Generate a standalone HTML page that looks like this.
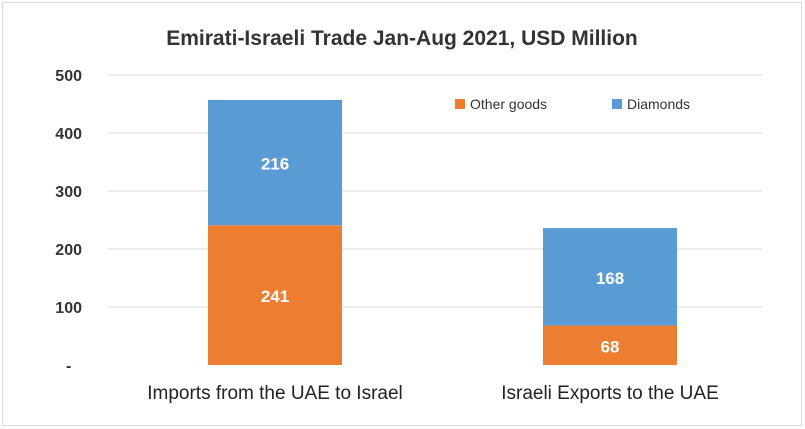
<!DOCTYPE html>
<html><head><meta charset="utf-8"><style>
body{margin:0;background:#fff}
svg{display:block;font-family:"Liberation Sans",sans-serif;font-weight:bold}
</style></head><body>
<svg width="805" height="429">
<rect x="2.5" y="2.5" width="799" height="423" fill="#fff" stroke="#d9d9d9"/>
<text x="402" y="45" text-anchor="middle" font-size="21" fill="#333">Emirati-Israeli Trade Jan-Aug 2021, USD Million</text>
<g id="grid"></g><g id="bars"></g>
<g>
<rect x="455" y="99" width="10" height="10" fill="#ED7D31"/>
<text x="470" y="109" font-size="14" font-weight="normal" fill="#333">Other goods</text>
<rect x="612" y="99" width="10" height="10" fill="#5B9BD5"/>
<text x="627" y="109" font-size="14" font-weight="normal" fill="#333">Diamonds</text>
</g>
</svg>
<script>
const categories=["Imports from the UAE to Israel","Israeli Exports to the UAE"];
const otherGoods=[241,68];
const diamonds=[216,168];
const ticks=[0,100,200,300,400,500];
const tickLabels=["-","100","200","300","400","500"];
const NS="http://www.w3.org/2000/svg";
const y=v=>365-v*0.58;
const cx=i=>275+i*335;
function mk(tag,attrs,parent,txt){const e=document.createElementNS(NS,tag);for(const k in attrs)e.setAttribute(k,attrs[k]);if(txt!==undefined)e.textContent=txt;parent.appendChild(e);return e;}
const grid=document.getElementById('grid'),bars=document.getElementById('bars');
ticks.forEach((t,i)=>{
 if(t>0){const l=mk('line',{x1:108,x2:762,y1:y(t),y2:y(t),stroke:'#d9d9d9'},grid);
 
 }
 const tx=mk('text',{x:t===0?66:82,y:y(t)+6,'text-anchor':t===0?'start':'end','font-size':16,fill:'#333'},grid,tickLabels[i]);
 
 
});
categories.forEach((c,i)=>{
 const w=134,x=cx(i)-w/2;
 const o=mk('rect',{x:x,y:y(otherGoods[i]),width:w,height:y(0)-y(otherGoods[i]),fill:'#ED7D31'},bars);
 
 
 const top=otherGoods[i]+diamonds[i];
 const d=mk('rect',{x:x,y:y(top),width:w,height:y(otherGoods[i])-y(top),fill:'#5B9BD5'},bars);
 
 
 const l1=mk('text',{x:cx(i),y:(y(0)+y(otherGoods[i]))/2+7,'text-anchor':'middle','font-size':17,fill:'#fff'},bars,String(otherGoods[i]));
 
 
 const l2=mk('text',{x:cx(i),y:(y(otherGoods[i])+y(top))/2+7,'text-anchor':'middle','font-size':17,fill:'#fff'},bars,String(diamonds[i]));
 
 
 const cl=mk('text',{x:cx(i),y:399,'text-anchor':'middle','font-size':19,'font-weight':'normal',fill:'#222'},bars,c);
 
 
});
</script>
</body></html>
